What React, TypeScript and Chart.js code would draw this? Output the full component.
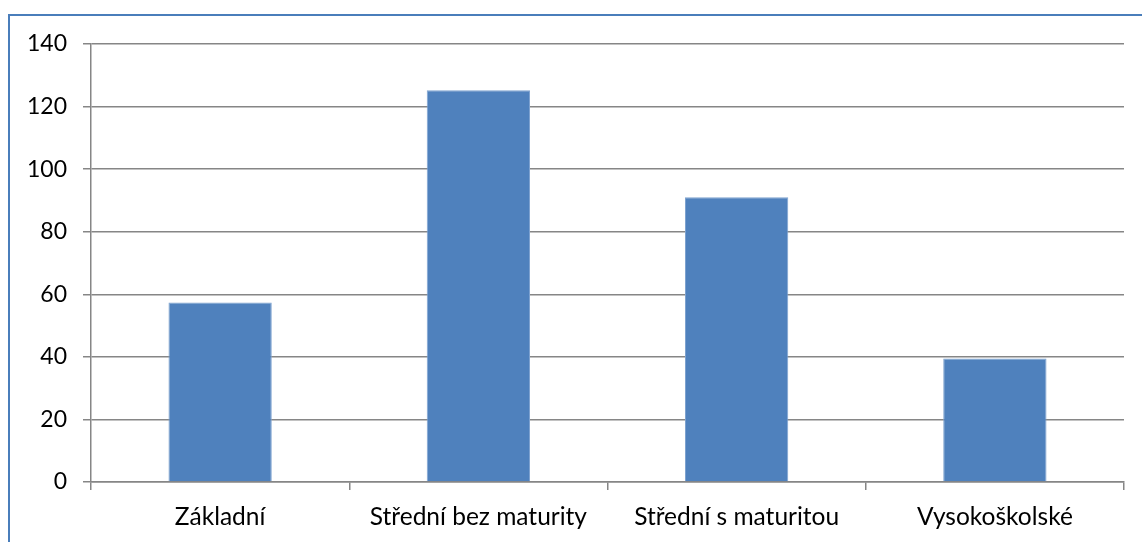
import React, { useEffect, useRef } from "react";
import { Chart, registerables } from "chart.js";

Chart.register(...registerables);

const categories: string[] = ["Základní", "Střední bez maturity", "Střední s maturitou", "Vysokoškolské"];
const values: number[] = [57.4, 125.2, 91, 39.5];
const yMin = 0;
const yMax = 140;
const yStep = 20;

const FONT = "Lato, 'Open Sans', sans-serif";

export default function App() {
  const ref = useRef<HTMLCanvasElement | null>(null);

  useEffect(() => {
    if (!ref.current) return;
    const chart = new Chart(ref.current, {
      type: "bar",
      data: {
        labels: categories,
        datasets: [
          {
            data: values,
            backgroundColor: "#4F81BD",
            borderColor: "#7FA3D0",
            borderWidth: 1,
            barPercentage: 0.4,
            categoryPercentage: 1,
          },
        ],
      },
      options: {
        animation: false,
        responsive: false,
        maintainAspectRatio: false,
        layout: { padding: { top: 44, right: 18, left: 0, bottom: 0 } },
        plugins: { legend: { display: false }, tooltip: { enabled: false } },
        scales: {
          x: {
            afterFit: (s: any) => {
              s.height = 60;
            },
            grid: {
              display: true,
              drawOnChartArea: false,
              drawTicks: true,
              tickLength: 8,
              color: "#868686",
              lineWidth: 1.5,
              offset: true,
            },
            border: { display: true, color: "#868686", width: 1.5 },
            ticks: {
              color: "#000",
              font: { family: FONT, size: 24.5 },
              padding: 12,
              maxRotation: 0,
              autoSkip: false,
            },
          },
          y: {
            min: yMin,
            max: yMax,
            afterFit: (s: any) => {
              s.width = 91;
            },
            grid: {
              display: true,
              drawOnChartArea: true,
              drawTicks: true,
              tickLength: 8,
              color: "#868686",
              lineWidth: 1.5,
            },
            border: { display: true, color: "#868686", width: 1.5 },
            ticks: {
              stepSize: yStep,
              color: "#000",
              font: { family: FONT, size: 23 },
              padding: 16,
            },
          },
        },
      },
    });
    return () => chart.destroy();
  }, []);

  return (
    <div style={{ position: "fixed", left: 0, top: 0, width: 1142, height: 542, background: "#fff", overflow: "hidden" }}>
      <div
        style={{
          position: "absolute",
          left: 8,
          top: 14,
          width: 1300,
          height: 700,
          borderLeft: "2px solid #4A7EBB",
          borderTop: "2px solid #4A7EBB",
          boxSizing: "border-box",
        }}
      />
      <canvas ref={ref} width={1142} height={542} style={{ position: "absolute", left: 0, top: 0, width: 1142, height: 542 }} />
    </div>
  );
}
